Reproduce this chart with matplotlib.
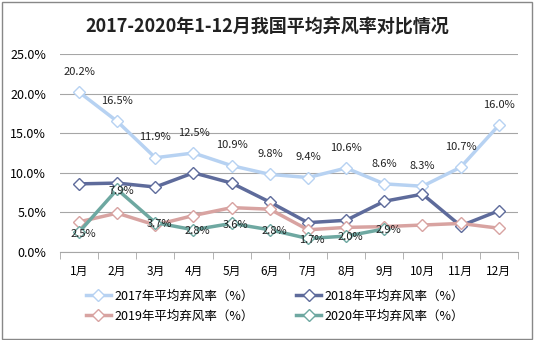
import matplotlib.pyplot as plt
from matplotlib.ticker import FuncFormatter, MultipleLocator
from matplotlib.patches import Rectangle

plt.rcParams['font.family'] = ['Noto Sans CJK SC', 'DejaVu Sans']

months = ['1月', '2月', '3月', '4月', '5月', '6月', '7月', '8月', '9月', '10月', '11月', '12月']
rate_2017 = [20.2, 16.5, 11.9, 12.5, 10.9, 9.8, 9.4, 10.6, 8.6, 8.3, 10.7, 16.0]
rate_2018 = [8.6, 8.7, 8.2, 10.0, 8.7, 6.3, 3.7, 4.0, 6.4, 7.3, 3.3, 5.2]
rate_2019 = [3.8, 4.9, 3.4, 4.6, 5.6, 5.4, 2.8, 3.1, 3.2, 3.4, 3.6, 3.0]
rate_2020 = [2.5, 7.9, 3.7, 2.8, 3.6, 2.8, 1.7, 2.0, 2.9]

names = ['2017年平均弃风率（%）', '2018年平均弃风率（%）', '2019年平均弃风率（%）', '2020年平均弃风率（%）']
colors = ['#B7D2F2', '#5E6B9B', '#D8A3A1', '#6EA8A1']

fig = plt.figure(figsize=(5.35, 3.4), dpi=100)
ax = fig.add_axes([0.112, 0.259, 0.856, 0.582])

series = [rate_2017, rate_2018, rate_2019, rate_2020]
lines = []
for vals, name, c in zip(series, names, colors):
    ln, = ax.plot(range(len(vals)), vals, color=c, lw=2.5, marker='D', ms=6,
                  mfc='white', mec=c, mew=1.0, label=name, zorder=3)
    lines.append(ln)

for i, v in enumerate(rate_2017):
    ax.annotate('%.1f%%' % v, (i, v), xytext=(0, 11), textcoords='offset points',
                ha='center', va='bottom', fontsize=8, color='#222222')
for i, v in enumerate(rate_2020):
    ax.annotate('%.1f%%' % v, (i, v), xytext=(3, -1), textcoords='offset points',
                ha='center', va='center', fontsize=8, color='#222222', zorder=5)

ax.set_xlim(-0.5, 11.5)
ax.set_ylim(0, 25)
ax.yaxis.set_major_locator(MultipleLocator(5))
ax.yaxis.set_major_formatter(FuncFormatter(lambda y, _: '%.1f%%' % y))
ax.grid(axis='y', color='#A6A6A6', lw=0.8)
ax.set_axisbelow(True)
ax.set_xticks(range(12))
ax.set_xticklabels(months)
ax.set_xticks([i - 0.5 for i in range(13)], minor=True)
ax.tick_params(axis='x', which='major', length=0, pad=9, labelsize=8.5)
ax.tick_params(axis='x', which='minor', length=5, color='#A6A6A6')
ax.tick_params(axis='y', length=0, labelsize=9, pad=10)
for s in ['top', 'right', 'left']:
    ax.spines[s].set_visible(False)
ax.spines['bottom'].set_color('#A6A6A6')

fig.text(0.5, 0.92, '2017-2020年1-12月我国平均弃风率对比情况', ha='center', va='center',
         fontsize=13, fontweight='bold', color='#222222')

order = [0, 2, 1, 3]
fig.legend([lines[k] for k in order], [names[k] for k in order],
           loc='center', bbox_to_anchor=(0.514, 0.1), ncol=2, frameon=False,
           fontsize=9, columnspacing=3.4, handlelength=2.0, handletextpad=0.3,
           labelspacing=0.55)

fig.patches.append(Rectangle((0.003, 0.004), 0.992, 0.99, transform=fig.transFigure,
                             fill=False, edgecolor='#888888', lw=1))

fig.savefig('out.png', dpi=100)
